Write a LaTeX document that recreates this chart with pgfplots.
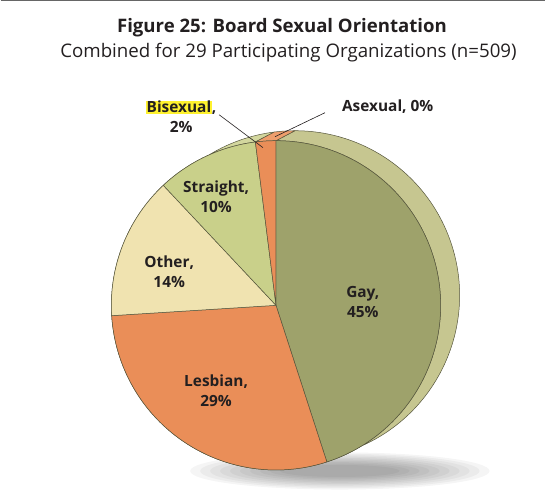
\documentclass[border=0pt]{standalone}
\usepackage{pgfplots}
\pgfplotsset{compat=1.18}
\usepackage{pgfplotstable}
\usepackage{fontspec}
\setmainfont{Open Sans}

\definecolor{txt}{HTML}{231F20}
\definecolor{edge}{HTML}{55553C}
\definecolor{cgay}{HTML}{9EA26B}
\definecolor{cgayside}{HTML}{C6C690}
\definecolor{cles}{HTML}{EA8E58}
\definecolor{clesside}{HTML}{EE9E6C}
\definecolor{coth}{HTML}{F0E3B0}
\definecolor{cothside}{HTML}{F2E8C0}
\definecolor{cstr}{HTML}{C9D08A}
\definecolor{cstrside}{HTML}{D3D79E}
\definecolor{hilite}{HTML}{FFF22E}

% share of board members, clockwise from 12 o'clock
\pgfplotstableread{
label    value face side
Gay      45    cgay cgayside
Lesbian  29    cles clesside
Other    14    coth cothside
Straight 10    cstr cstrside
Bisexual 2     cles clesside
Asexual  0     cles clesside
}\piedata

\begin{document}
\begin{tikzpicture}
\begin{axis}[
    width=546bp, height=498bp, scale only axis,
    xmin=0, xmax=546, ymin=0, ymax=498, y dir=reverse,
    hide axis, clip=false,
]
\addplot[draw=none] coordinates {(0,0)};

% top rule
\draw[gray!80!black, line width=1.2bp] (axis cs:0,0.6) -- (axis cs:546,0.6);

% soft shadow under the pie
\foreach \k in {1,...,10}{
  \edef\temp{\noexpand\fill[black, opacity=0.04] (axis cs:340,472) ellipse [x radius={160bp-\k*10bp}, y radius={20bp-\k*1.4bp}];}
  \temp
}

\pgfplotstablegetrowsof{\piedata}
\pgfmathtruncatemacro\nrows{\pgfplotsretval-1}

% side of the disc
\def\angleacc{90}
\pgfplotsforeachungrouped \i in {0,...,\nrows}{%
  \pgfplotstablegetelem{\i}{value}\of\piedata \let\v\pgfplotsretval
  \pgfplotstablegetelem{\i}{side}\of\piedata \let\c\pgfplotsretval
  \pgfmathsetmacro\endang{\angleacc-3.6*\v}
  \ifdim\v pt>0pt
    \edef\temp{\noexpand\filldraw[fill=\c, draw=edge, line width=0.5bp, line join=round]
      (axis cs:276,306) ++(\angleacc:165bp)
      arc[start angle=\angleacc, end angle=\endang, radius=165bp]
      -- ++(19bp,10bp)
      arc[start angle=\endang, end angle=\angleacc, radius=165bp] -- cycle;}
    \temp
  \fi
  \global\let\angleacc\endang
}

% top face
\def\angleacc{90}
\pgfplotsforeachungrouped \i in {0,...,\nrows}{%
  \pgfplotstablegetelem{\i}{value}\of\piedata \let\v\pgfplotsretval
  \pgfplotstablegetelem{\i}{face}\of\piedata \let\c\pgfplotsretval
  \pgfmathsetmacro\endang{\angleacc-3.6*\v}
  \ifdim\v pt>0pt
    \edef\temp{\noexpand\filldraw[fill=\c, draw=edge, line width=0.5bp, line join=round]
      (axis cs:276,306) -- ++(\angleacc:165bp)
      arc[start angle=\angleacc, end angle=\endang, radius=165bp] -- cycle;}
    \temp
  \fi
  \global\let\angleacc\endang
}

% titles
\node[txt, font=\bfseries\fontsize{18.7}{22}\selectfont] at (axis cs:282,28) {Figure 25: Board Sexual Orientation};
\node[txt, font=\fontsize{18.8}{22}\selectfont] at (axis cs:288.5,53) {Combined for 29 Participating Organizations (n=509)};

% slice labels
\tikzset{lab/.style={txt, font=\bfseries\fontsize{15.5}{20}\selectfont, align=center}}
\node[lab] at (axis cs:363,303) {Gay,\\45\%};
\node[lab] at (axis cs:216,392) {Lesbian,\\29\%};
\node[lab] at (axis cs:169,272) {Other,\\14\%};
\node[lab] at (axis cs:216,197) {Straight,\\10\%};
\node[lab] at (axis cs:181,117) {\setlength{\fboxsep}{0.6pt}\colorbox{hilite}{Bisexual},\\2\%};
\node[lab] at (axis cs:388,107) {Asexual, 0\%};

% leader lines
\draw[txt, line width=0.6bp] (axis cs:219,115) -- (axis cs:263,148);
\draw[txt, line width=0.6bp] (axis cs:325,113) -- (axis cs:275,137);
\end{axis}
\end{tikzpicture}
\end{document}
